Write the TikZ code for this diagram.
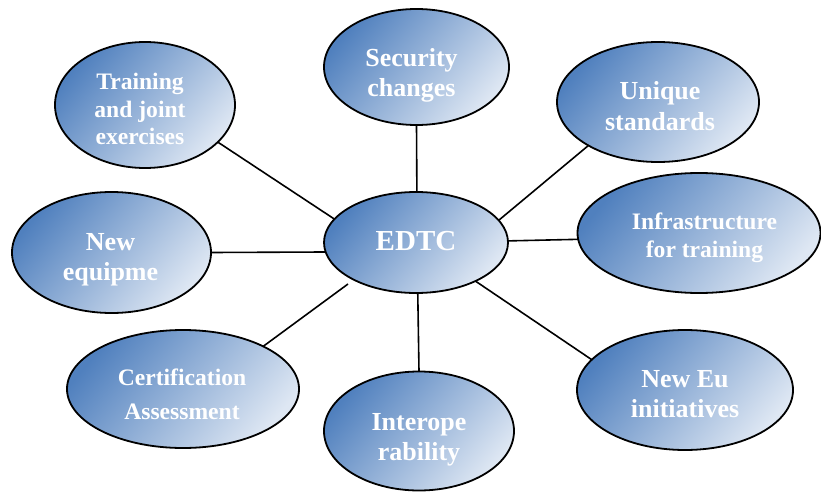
\documentclass[tikz,border=0pt]{standalone}
\usepackage{fontspec}
\setmainfont{Liberation Serif}
\usetikzlibrary{shapes.geometric}
\definecolor{cdark}{RGB}{80,128,190}
\definecolor{clight}{RGB}{222,231,243}
\tikzset{
  ell/.style={ellipse, draw=black, line width=1.8pt, outer sep=0pt, inner sep=0pt,
    top color=cdark, bottom color=clight, shading angle=50},
  txt/.style={anchor=base, text=white, inner sep=0pt, font=\bfseries},
  conn/.style={draw=black, line width=1.6pt},
}
\newcommand{\twol}[3]{\fontsize{#1}{#3}\selectfont\begin{tabular}[t]{@{}c@{}}#2\end{tabular}}
\begin{document}
\begin{tikzpicture}[x=1pt,y=-1pt]
\useasboundingbox (0,0) rectangle (821,492);
% ellipses
\node[ell, minimum width=180, minimum height=126] (train) at (145,105) {};
\node[ell, minimum width=185, minimum height=116] (sec) at (416.5,67) {};
\node[ell, minimum width=202, minimum height=120] (uniq) at (658,102) {};
\node[ell, minimum width=184, minimum height=101] (edtc) at (416,242.5) {};
\node[ell, minimum width=243, minimum height=120] (infra) at (699,233) {};
\node[ell, minimum width=199, minimum height=121] (equip) at (111.5,252.5) {};
\node[ell, minimum width=232, minimum height=118] (cert) at (183,389) {};
\node[ell, minimum width=190, minimum height=119] (inter) at (419,431) {};
\node[ell, minimum width=216, minimum height=120] (neweu) at (685,390) {};
\coordinate (certend) at (348,284);
% connectors
\draw[conn] (train.-27.2) -- (edtc.164.5);
\draw[conn] (sec.-90) -- (edtc.89);
\draw[conn] (uniq.212.9) -- (edtc.15.5);
\draw[conn] (equip.0) -- (edtc.186.7);
\draw[conn] (infra.183.3) -- (edtc.1.6);
\draw[conn] (cert.28.6) -- (certend);
\draw[conn] (inter.90) -- (edtc.-88);
\draw[conn] (neweu.162) -- (edtc.-33.2);
% texts
\node[txt] (ttrain) at (140,90) {\twol{23.6}{Training\\and joint\\exercises}{27.5}};
\node[txt] (tsec) at (411.5,66.7) {\twol{26}{Security\\changes}{30}};
\node[txt] (tuniq) at (660,100) {\twol{26}{Unique\\standards}{30.7}};
\node[txt] (tedtc) at (416,250) {\fontsize{29}{32}\selectfont EDTC};
\node[txt] (tinfra) at (704.5,229) {\twol{23.6}{Infrastructure\\for training}{28}};
\node[txt] (tequip) at (110.5,250) {\twol{26}{New\\equipme}{30}};
\node[txt] (tcert) at (182,385.7) {\twol{23.6}{Certification\\Assessment}{34}};
\node[txt] (tinter) at (419,430.7) {\twol{26}{Interope\\rability}{29.5}};
\node[txt] (tneweu) at (685,387) {\twol{26}{New Eu\\initiatives}{30.5}};
\end{tikzpicture}
\end{document}
